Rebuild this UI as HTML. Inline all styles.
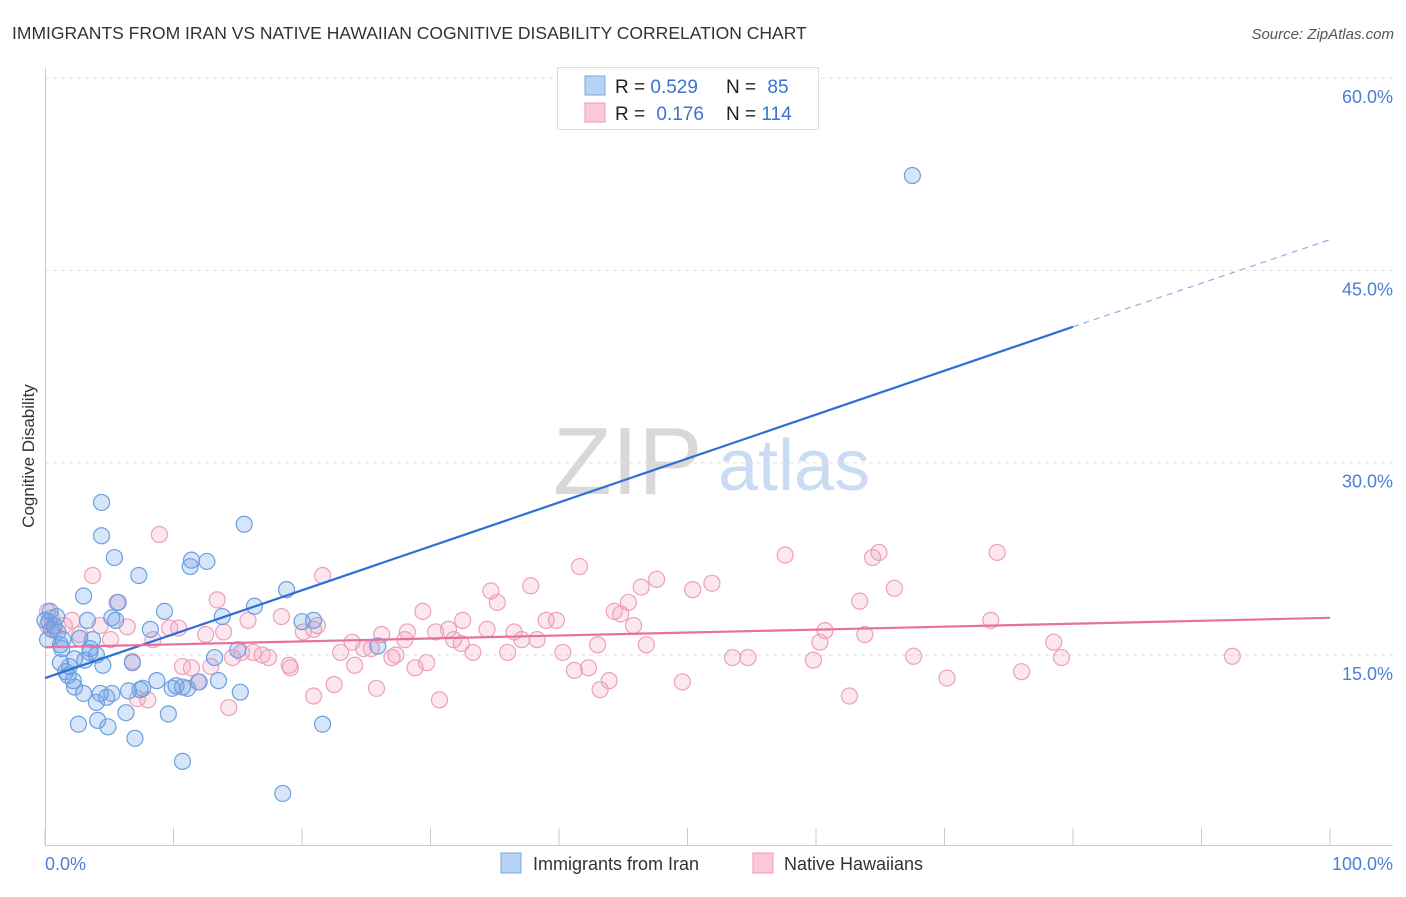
<!DOCTYPE html>
<html><head><meta charset="utf-8"><style>
body{margin:0;background:#fff;font-family:"Liberation Sans",sans-serif;}
svg text{font-family:"Liberation Sans",sans-serif;}
</style></head><body>
<svg id="chart" width="1406" height="892">
<text x="12" y="39" font-size="17.5" fill="#333">IMMIGRANTS FROM IRAN VS NATIVE HAWAIIAN COGNITIVE DISABILITY CORRELATION CHART</text>
<text x="1394" y="39" font-size="15" fill="#555" font-style="italic" text-anchor="end">Source: ZipAtlas.com</text>
<g>
<text x="553" y="494" font-size="96" fill="#d8d8d8" font-family="Liberation Serif,serif">ZIP</text>
<text x="718" y="490" font-size="72" fill="#c9dcf3">atlas</text>
</g>
<g id="grid"></g>
<g id="axes"></g>
<g id="marks"></g>
<text x="34" y="456" font-size="17" fill="#333" text-anchor="middle" transform="rotate(-90 34 456)">Cognitive Disability</text>
<g>
<rect x="557.5" y="67.5" width="261" height="62" fill="#fff" stroke="#ddd"/>
<rect x="585" y="76" width="20" height="19" fill="#b8d2f4" stroke="#7aa7e6"/>
<rect x="585" y="103" width="20" height="19" fill="#fcc8d8" stroke="#ee9ab5"/>
<text x="615" y="93" font-size="19" fill="#222">R = <tspan fill="#3a72d0">0.529</tspan></text>
<text x="726" y="93" font-size="19" fill="#222">N = <tspan fill="#3a72d0" dx="6">85</tspan></text>
<text x="615" y="120" font-size="19" fill="#222">R = <tspan fill="#3a72d0" dx="6">0.176</tspan></text>
<text x="726" y="120" font-size="19" fill="#222">N = <tspan fill="#3a72d0">114</tspan></text>
</g>
<g>
<rect x="501" y="853" width="20" height="20" fill="#b8d2f4" stroke="#7aa7e6"/>
<text x="533" y="870" font-size="18" fill="#333">Immigrants from Iran</text>
<rect x="753" y="853" width="20" height="20" fill="#fcc8d8" stroke="#ee9ab5"/>
<text x="784" y="870" font-size="18" fill="#333">Native Hawaiians</text>
</g>
</svg>
<script>
const yTicks=[15,30,45,60];
const yTickLabels=["15.0%","30.0%","45.0%","60.0%"];
const xTicks=[0,10,20,30,40,50,60,70,80,90,100];
const iranX=[67.5,4.4,15.5,4.4,5.4,11.4,12.6,11.3,7.3,3.0,5.7,9.3,16.3,18.8,13.8,5.2,5.5,3.3,20.9,20.0,0.4,0.3,0.5,1.0,0.0,0.2,1.2,2.7,3.7,1.3,3.5,4.0,3.1,4.5,6.8,1.9,1.6,1.8,2.2,2.3,3.0,4.0,4.8,5.2,4.3,6.5,7.6,8.7,10.2,10.7,9.9,11.1,12.0,13.2,13.5,15.2,15.0,25.9,6.3,9.6,2.6,4.1,4.9,7.0,10.7,18.5,21.6,8.2,7.4,1.2,2.3,3.5,0.7,0.9,1.4];
const iranY=[52.4,26.9,25.2,24.3,22.6,22.4,22.3,21.9,21.2,19.6,19.1,18.4,18.8,20.1,18.0,17.9,17.7,17.7,17.7,17.6,18.4,17.6,17.0,16.8,17.7,16.2,15.8,16.3,16.2,15.5,15.2,15.0,14.6,14.2,14.4,14.1,13.7,13.4,13.0,12.5,12.0,11.3,11.7,12.0,12.0,12.2,12.4,13.0,12.6,12.5,12.4,12.4,12.9,14.8,13.0,12.1,15.4,15.7,10.5,10.4,9.6,9.9,9.4,8.5,6.7,4.2,9.6,17.0,12.3,14.4,14.7,15.5,17.3,18.0,16.2];
const hawX=[0.2,0.2,0.5,1.5,2.1,2.7,3.7,4.3,5.1,5.6,6.4,6.8,7.2,8.0,8.4,8.9,9.7,10.4,10.7,11.4,11.9,12.5,12.9,13.4,13.9,14.3,14.6,15.3,15.8,16.2,16.9,17.4,18.4,19.0,19.1,20.1,20.9,21.2,21.6,20.9,22.5,23.0,23.9,24.1,24.8,25.4,25.8,26.2,27.0,27.3,28.0,28.2,28.8,29.4,29.7,30.4,30.7,31.4,31.8,32.4,32.5,33.3,34.4,34.7,35.2,36.0,36.5,37.1,37.8,38.3,39.0,39.8,40.3,41.2,41.6,42.3,43.0,43.2,43.9,44.3,44.8,45.4,45.8,46.4,46.8,47.6,49.6,50.4,51.9,53.5,54.7,57.6,59.8,60.3,60.7,62.6,63.4,63.8,64.4,64.9,66.1,67.6,70.2,73.6,74.1,76.0,78.5,79.1,92.4,0.7];
const hawY=[18.4,17.3,17.9,17.3,17.7,16.6,21.2,17.3,16.2,19.1,17.2,14.5,11.6,11.5,16.2,24.4,17.1,17.1,14.1,14.0,12.9,16.6,14.1,19.3,16.8,10.9,14.8,15.2,17.7,15.2,15.0,14.8,18.0,14.2,14.0,16.8,17.0,17.3,21.2,11.8,12.7,15.2,16.0,14.2,15.5,15.5,12.4,16.6,14.8,15.0,16.2,16.8,14.0,18.4,14.4,16.8,11.5,17.0,16.2,15.9,17.7,15.2,17.0,20.0,19.1,15.2,16.8,16.2,20.4,16.2,17.7,17.7,15.2,13.8,21.9,14.0,15.8,12.3,13.0,18.4,18.2,19.1,17.3,20.3,15.8,20.9,12.9,20.1,20.6,14.8,14.8,22.8,14.6,16.0,16.9,11.8,19.2,16.6,22.6,23.0,20.2,14.9,13.2,17.7,23.0,13.7,16.0,14.8,14.9,17.0];
const iranTrend=[[0,13.2],[80,40.6],[100,47.4]];
const hawTrend=[[0,15.6],[100,17.9]];

const NS="http://www.w3.org/2000/svg";
const X0=45,X1=1330,Y15=655,PXPER=12.82;
const sx=v=>X0+(X1-X0)*v/100;
const sy=v=>Y15-(v-15)*PXPER;
function mk(parent,tag,attrs){const e=document.createElementNS(NS,tag);for(const k in attrs)e.setAttribute(k,attrs[k]);document.getElementById(parent).appendChild(e);return e;}

yTicks.forEach((t,i)=>{
  const l=mk('grid','line',{x1:X0,x2:1393,y1:sy(t),y2:sy(t),stroke:'#ddd','stroke-dasharray':'4,4'});
  
  
  const tx=mk('grid','text',{x:1393,y:sy(t)+25,'font-size':18,fill:'#4a7fd4','text-anchor':'end'});
  tx.textContent=yTickLabels[i];
  
  
});
const ax=mk('axes','line',{x1:X0,x2:1393,y1:845.5,y2:845.5,stroke:'#ccc'});


const ay=mk('axes','line',{x1:X0+0.5,x2:X0+0.5,y1:68,y2:845,stroke:'#ccc'});


xTicks.forEach(t=>{
  const l=mk('axes','line',{x1:sx(t),x2:sx(t),y1:828,y2:845,stroke:'#ccc'});
  
  
});
const xl0=mk('axes','text',{x:45,y:870,'font-size':18,fill:'#4a7fd4'});xl0.textContent='0.0%';


const xl1=mk('axes','text',{x:1393,y:870,'font-size':18,fill:'#4a7fd4','text-anchor':'end'});xl1.textContent='100.0%';



hawX.forEach((x,i)=>{
  const c=mk('marks','circle',{cx:sx(x),cy:sy(hawY[i]),r:8,fill:'rgba(244,160,190,0.25)',stroke:'#eca0ba','stroke-width':1.2});
  
  
});
iranX.forEach((x,i)=>{
  const c=mk('marks','circle',{cx:sx(x),cy:sy(iranY[i]),r:8,fill:'rgba(110,160,230,0.28)',stroke:'#6c9fe0','stroke-width':1.2});
  
  
});
const t1=mk('marks','line',{x1:sx(iranTrend[0][0]),y1:sy(iranTrend[0][1]),x2:sx(iranTrend[1][0]),y2:sy(iranTrend[1][1]),stroke:'#2d6fd6','stroke-width':2.2});


const t2=mk('marks','line',{x1:sx(iranTrend[1][0]),y1:sy(iranTrend[1][1]),x2:sx(iranTrend[2][0]),y2:sy(iranTrend[2][1]),stroke:'#8ab0e6','stroke-width':1.2,'stroke-dasharray':'6,5'});


const t3=mk('marks','line',{x1:sx(hawTrend[0][0]),y1:sy(hawTrend[0][1]),x2:sx(hawTrend[1][0]),y2:sy(hawTrend[1][1]),stroke:'#e8709a','stroke-width':2.2});


</script>
</body></html>
